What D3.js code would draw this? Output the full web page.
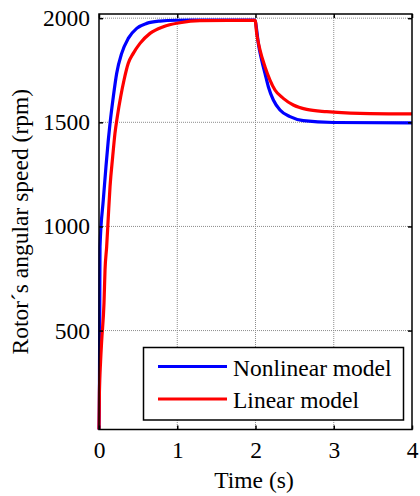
<!DOCTYPE html>
<html>
<head>
<meta charset="utf-8">
<script src="https://cdn.jsdelivr.net/npm/d3@7.9.0/dist/d3.min.js"></script>
<style>
  body { margin: 0; background: #fff; }
</style>
</head>
<body>
<svg id="chart" width="420" height="496"></svg>
<script>
// Data (time in s, speed in rpm)
const nonlinearTime  = [0, 0.006, 0.01, 0.013, 0.055, 0.089, 0.119, 0.141, 0.183, 0.226, 0.29, 0.374, 0.482, 0.61, 0.78, 0.99, 1.29, 1.995,
                        2.015, 2.036, 2.079, 2.121, 2.164, 2.228, 2.313, 2.441, 2.611, 3.0, 4.0];
const nonlinearSpeed = [25, 250, 650, 903, 1127, 1287, 1415, 1495, 1623, 1735, 1831, 1903, 1951, 1975, 1986, 1990, 1991, 1991,
                        1943, 1879, 1799, 1735, 1671, 1607, 1559, 1527, 1508, 1499, 1497];

const linearTime  = [0, 0.005, 0.02, 0.035, 0.064, 0.077, 0.098, 0.119, 0.141, 0.175, 0.204, 0.234, 0.277, 0.32, 0.374, 0.438, 0.524, 0.652, 0.822, 1.035, 1.29, 1.995,
                     2.015, 2.058, 2.121, 2.185, 2.249, 2.355, 2.483, 2.654, 2.91, 3.335, 4.0];
const linearSpeed = [25, 200, 350, 455, 633, 791, 903, 1047, 1191, 1335, 1447, 1527, 1623, 1703, 1783, 1831, 1879, 1927, 1959, 1978, 1988, 1990,
                     1927, 1847, 1767, 1703, 1655, 1615, 1583, 1562, 1551, 1543, 1540];

const xTicks = [0, 1, 2, 3, 4];
const yTicks = [500, 1000, 1500, 2000];
const seriesNames = ["Nonlinear model", "Linear model"];
const seriesColors = ["#0000ff", "#ff0000"];

const FONT = "'Liberation Serif', serif";
const FS = 23.5;

const svg = d3.select("#chart");
const pLeft = 99, pRight = 412, pTop = 14, pBottom = 429.5;

const x = d3.scaleLinear().domain([0, 4]).range([pLeft, pRight]);
const y = d3.scaleLinear().domain([25, 2020]).range([pBottom, pTop]);

// grid
const grid = svg.append("g").attr("stroke", "#8c8c8c").attr("stroke-width", 1).attr("stroke-dasharray", "1,1");
grid.selectAll(".gx").data(xTicks.slice(1, -1)).join("line")
  .attr("x1", d => x(d)).attr("x2", d => x(d)).attr("y1", pTop).attr("y2", pBottom);
grid.selectAll(".gy").data(yTicks).join("line")
  .attr("y1", d => y(d)).attr("y2", d => y(d)).attr("x1", pLeft).attr("x2", pRight);

// curves
const line = d3.line().x(d => x(d[0])).y(d => y(d[1])).curve(d3.curveMonotoneX);
const series = [
  d3.zip(nonlinearTime, nonlinearSpeed),
  d3.zip(linearTime, linearSpeed)
];
series.forEach((s, i) => {
  svg.append("path").datum(s)
    .attr("d", line)
    .attr("fill", "none")
    .attr("stroke", seriesColors[i])
    .attr("stroke-width", 3.2);
});

// axes box and inward ticks
svg.append("rect").attr("x", pLeft).attr("y", pTop)
  .attr("width", pRight - pLeft).attr("height", pBottom - pTop)
  .attr("fill", "none").attr("stroke", "#000").attr("stroke-width", 1.5);

const fmt = d3.format("d");
const axB = svg.append("g").attr("transform", `translate(0,${pBottom})`)
  .call(d3.axisBottom(x).tickValues(xTicks).tickFormat(fmt).tickSizeInner(-4).tickSizeOuter(0).tickPadding(12));
const axT = svg.append("g").attr("transform", `translate(0,${pTop})`)
  .call(d3.axisTop(x).tickValues(xTicks).tickSizeInner(-4).tickSizeOuter(0).tickFormat(""));
const axL = svg.append("g").attr("transform", `translate(${pLeft},0)`)
  .call(d3.axisLeft(y).tickValues(yTicks).tickFormat(fmt).tickSizeInner(-4).tickSizeOuter(0).tickPadding(9));
const axR = svg.append("g").attr("transform", `translate(${pRight},0)`)
  .call(d3.axisRight(y).tickValues(yTicks).tickSizeInner(-4).tickSizeOuter(0).tickFormat(""));

[axB, axT, axL, axR].forEach(a => {
  a.select(".domain").remove();
  a.selectAll(".tick line").attr("stroke", "#000").attr("stroke-width", 1.5);
  a.selectAll("text").attr("fill", "#000");
});
axB.selectAll("text").attr("dy", "0.71em");

// axis titles
svg.append("text").attr("x", 254).attr("y", 488)
  .attr("text-anchor", "middle").text("Time (s)");
svg.append("text")
  .attr("transform", `translate(28,${(pTop + pBottom) / 2}) rotate(-90)`)
  .attr("text-anchor", "middle")
  .text("Rotor´s angular speed (rpm)");

// legend
const lg = svg.append("g");
lg.append("rect").attr("x", 143.5).attr("y", 347.5).attr("width", 260).attr("height", 72.5)
  .attr("fill", "#fff").attr("stroke", "#000").attr("stroke-width", 1.5);
seriesNames.forEach((name, i) => {
  const yy = 366.5 + i * 32.5;
  lg.append("line").attr("x1", 158).attr("x2", 227).attr("y1", yy).attr("y2", yy)
    .attr("stroke", seriesColors[i]).attr("stroke-width", 3.2);
  lg.append("text").attr("x", 233).attr("y", yy + 9).text(name);
});

svg.selectAll("text")
  .style("font-family", FONT)
  .style("font-size", FS + "px");
</script>
</body>
</html>
